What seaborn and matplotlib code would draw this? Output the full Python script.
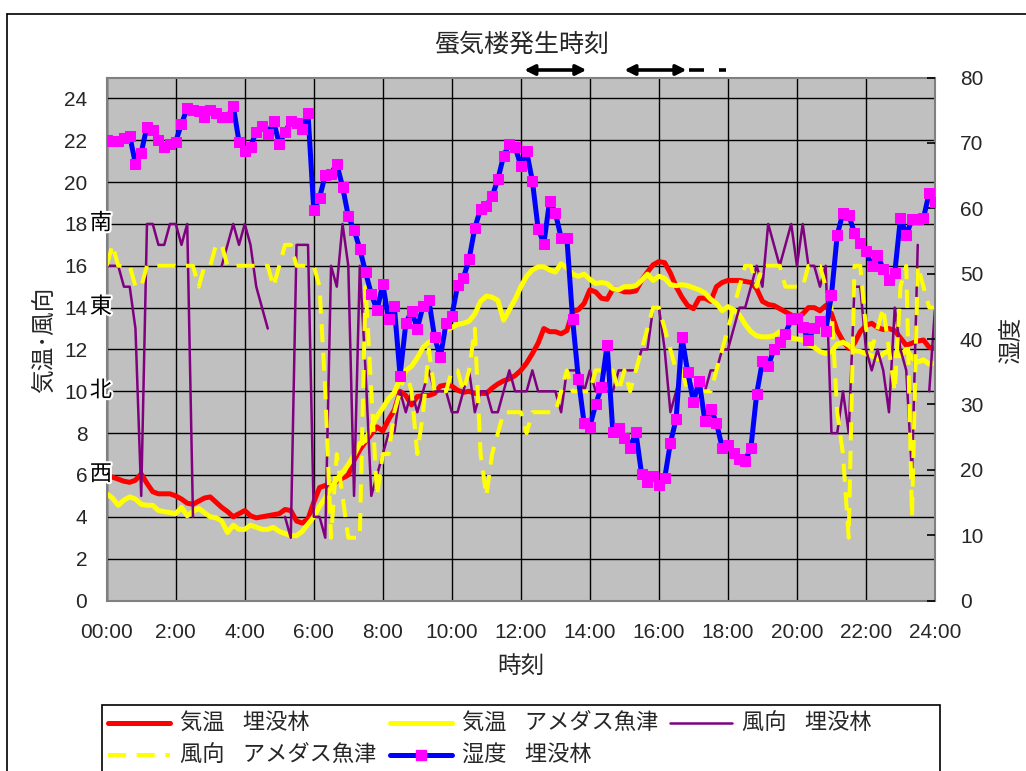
import numpy as np
import pandas as pd
import matplotlib
matplotlib.use("Agg")
import matplotlib.pyplot as plt
import matplotlib.patheffects as pe
import matplotlib.transforms as mtransforms
from matplotlib.lines import Line2D
from matplotlib.patches import Rectangle
import seaborn as sns

nan = np.nan

# 10-minute observations, 00:00 .. 24:00 (145 samples)
minutes = np.arange(0, 24 * 60 + 1, 10)

# air temperature at the buried-forest site (deg C)
temp_site = [
    5.9, 5.9, 5.8, 5.7, 5.65, 5.75, 6.05, 5.6, 5.2, 5.1,
    5.1, 5.1, 5.0, 4.85, 4.65, 4.6, 4.75, 4.9, 4.95, 4.7,
    4.45, 4.25, 4.0, 4.15, 4.3, 4.05, 3.95, 4.0, 4.05, 4.1,
    4.15, 4.35, 4.3, 3.8, 3.7, 3.9, 4.7, 5.4, 5.5, 5.5,
    5.7, 5.85, 6.0, 6.7, 7.2, 7.6, 7.95, 8.3, 8.1, 8.65,
    9.1, 10.0, 9.8, 9.35, 9.75, 9.8, 9.8, 9.9, 10.25, 10.3,
    10.25, 10.05, 9.95, 10.0, 9.9, 9.9, 9.9, 10.15, 10.35, 10.5,
    10.6, 10.75, 11.0, 11.35, 11.8, 12.3, 13.0, 12.85, 12.85, 12.75,
    12.9, 13.8, 13.9, 14.2, 14.85, 14.75, 14.45, 14.4, 14.9, 14.85,
    14.75, 14.75, 14.8, 15.3, 15.7, 16.05, 16.2, 16.15, 15.65, 15.0,
    14.5, 14.1, 13.95, 14.45, 14.45, 14.3, 15.0, 15.2, 15.3, 15.3,
    15.3, 15.25, 15.2, 14.9, 14.3, 14.15, 14.1, 13.95, 13.8, 13.65,
    13.55, 13.7, 14.0, 14.0, 13.85, 14.1, 13.7, 12.9, 12.4, 12.05,
    12.3, 12.85, 13.15, 13.25, 13.05, 12.95, 13.0, 12.9, 12.55, 12.2,
    12.3, 12.4, 12.45, 12.1, 12.05,
]

# air temperature, AMeDAS Uozu (deg C)
temp_amedas = [
    5.1, 4.9, 4.55, 4.8, 4.95, 4.85, 4.6, 4.55, 4.55, 4.3,
    4.25, 4.2, 4.15, 4.45, 4.05, 4.25, 4.4, 4.2, 4.0, 3.95,
    3.8, 3.25, 3.6, 3.4, 3.4, 3.6, 3.5, 3.4, 3.4, 3.5,
    3.3, 3.2, 3.1, 3.1, 3.3, 3.65, 4.0, 4.5, 4.9, 5.4,
    5.8, 6.1, 6.5, 6.95, 7.5, 7.65, 8.3, 8.8, 9.2, 9.65,
    9.95, 10.6, 11.0, 11.2, 11.6, 12.1, 12.35, 12.4, 12.5, 12.9,
    13.05, 13.2, 13.25, 13.35, 13.7, 14.3, 14.55, 14.5, 14.35, 13.4,
    13.9, 14.4, 15.0, 15.5, 15.8, 15.95, 15.95, 15.8, 15.7, 16.1,
    15.9, 15.6, 15.5, 15.6, 15.35, 15.15, 15.2, 15.15, 14.9, 14.85,
    15.0, 15.0, 15.05, 15.3, 15.6, 15.3, 15.5, 15.4, 15.1, 15.05,
    15.1, 15.05, 14.95, 14.85, 14.7, 14.4, 14.2, 13.85, 14.05, 13.9,
    13.65, 13.2, 12.85, 12.65, 12.6, 12.6, 12.65, 12.85, 12.6, 12.55,
    12.5, 12.45, 12.25, 12.1, 11.9, 11.8, 11.9, 12.25, 12.35, 12.2,
    11.95, 11.9, 11.8, 11.7, 11.55, 11.8, 11.95, 11.7, 11.7, 12.0,
    11.6, 11.4, 11.5, 11.3, 11.35,
]

# wind direction at the site (西=6, 北=10, 東=14, 南=18); nan = missing
wind_site = [
    16, 16, 16, 15, 15, 13, 5, 18, 18, 17,
    17, 18, 18, 17, 18, 4, nan, nan, nan, nan,
    16, 17, 18, 17, 18, 17, 15, 14, 13, nan,
    nan, 4, 3, 17, 17, 17, 4, 4, 3, 16,
    15, 18, 16, 5, 16, 11, 5, 6, 7, 8,
    8, 10, 9, 10, 9, 10, 11, 10, 10, 10,
    9, 9, 10, 11, 9, 10, 10, 9, 9, 10,
    11, 10, 10, 10, 11, 10, 10, 10, 10, 9,
    11, 11, 11, 10, 11, 10, 10, 10, 10, 11,
    11, 11, 11, 12, 12, 14, 14, 12, 9, 10,
    11, 11, 10, 10, 10, 11, 11, 12, 12, 13,
    14, 14, 15, 16, 15, 18, 17, 16, 17, 18,
    16, 18, 16, 16, 15, 16, 8, 8, 10, 8,
    15, 15, 12, 11, 12, 11, 9, 14, 12, 11,
    6, 17, nan, 10, 14,
]

# wind direction, AMeDAS Uozu
wind_amedas = [
    16, 17, 16, 16, 16, 15, 15, 16, 16, 16,
    16, 16, 16, 16, 16, 16, 15, 16, 16, 17,
    17, 16, 16, 16, 16, 16, 16, 16, 16, 15,
    16, 17, 17, 16, 16, 16, 16, 15, 10, 3,
    7, 5, 3, 3, 3, 15, 10, 5, 7, 7,
    9, 10, 11, 10, 7, 9, 12, 10, 10, 10,
    11, 11, 10, 11, 13, 7, 5, 7, 8, 9,
    9, 9, 9, 8, 9, 9, 9, 9, 9, 10,
    11, 10, 10, 10, 10, 11, 11, 11, 11, 10,
    11, 10, 11, 12, 13, 14, 14, 13, 12, 11,
    11, 10, 10, 10, 10, 10, 11, 12, 13, 14,
    15, 16, 16, 15, 16, 16, 16, 16, 15, 15,
    15, 15, 16, 16, 16, 15, 14, 9, 7, 3,
    16, 16, 13, 12, 13, 14, 12, 10, 15, 16,
    4, 16, 15, 14, 14,
]

# relative humidity at the site (%)
humidity_site = [
    70.5, 70.3, 70.3, 70.7, 71.1, 66.8, 68.5, 72.5, 72.0, 70.5,
    69.4, 69.9, 70.2, 72.9, 75.3, 75.1, 74.8, 74.0, 75.1, 74.5,
    73.9, 73.9, 75.6, 70.2, 68.7, 69.4, 71.7, 72.6, 71.3, 73.3,
    69.9, 71.6, 73.3, 73.1, 72.1, 74.5, 59.7, 61.6, 65.1, 65.3,
    66.8, 63.3, 58.8, 56.7, 53.8, 50.2, 46.9, 44.4, 48.4, 43.1,
    45.0, 34.4, 42.4, 44.3, 41.6, 45.1, 46.0, 40.3, 37.2, 42.4,
    43.5, 48.2, 49.3, 52.2, 57.0, 59.9, 60.4, 61.8, 64.4, 68.0,
    69.9, 69.4, 66.5, 68.7, 64.2, 56.9, 54.6, 61.1, 59.3, 55.5,
    55.5, 43.0, 33.9, 27.1, 26.6, 30.0, 32.6, 39.1, 25.7, 26.4,
    24.9, 23.4, 25.7, 19.3, 18.2, 19.1, 17.7, 18.7, 24.1, 27.8,
    40.3, 35.0, 30.4, 33.6, 27.4, 29.3, 27.2, 23.4, 23.8, 22.5,
    21.6, 21.4, 23.4, 31.6, 36.6, 35.9, 38.4, 39.5, 40.8, 43.0,
    43.2, 41.8, 39.9, 41.7, 42.8, 41.3, 46.7, 55.9, 59.3, 59.0,
    56.2, 54.7, 53.5, 51.2, 52.8, 50.7, 49.1, 50.1, 58.5, 55.9,
    58.3, 58.3, 58.5, 62.4, 61.0,
]

# mirage sightings (hours): confirmed spans and uncertain tail
mirage_spans = [(12.1, 13.9), (15.0, 16.8)]
mirage_uncertain = [(16.87, 17.3), (17.75, 17.93)]

x_ticks = list(range(0, 25, 2))
x_tick_labels = ["00:00"] + [f"{h}:00" for h in x_ticks[1:]]
dir_labels = {18: "南", 14: "東", 10: "北", 6: "西"}

legend_labels = ["気温   埋没林", "気温   アメダス魚津", "風向   埋没林",
                 "風向   アメダス魚津", "湿度   埋没林"]

# ---------------------------------------------------------------- frame
sns.set_style("white")
plt.rcParams["font.family"] = ["Liberation Sans", "Noto Sans CJK JP"]

W, H = 1026, 771
fig = plt.figure(figsize=(W / 100, H / 100), dpi=100)


def fx(px):
    return px / W


def fy(py):
    return 1 - py / H


x0, x1, y_top, y_bot = 106.7, 935.0, 77.5, 600.5
ax = fig.add_axes([fx(x0), fy(y_bot), fx(x1 - x0), (y_bot - y_top) / H])
ax.set_facecolor("#C0C0C0")

df = pd.DataFrame({
    "hour": minutes / 60.0,
    "temp_site": temp_site,
    "temp_amedas": temp_amedas,
    "wind_site": np.array(wind_site, dtype=float),
    "wind_amedas": np.array(wind_amedas, dtype=float),
    "humidity": humidity_site,
})
# split the site wind record at gaps so missing readings stay blank
df["seg"] = df["wind_site"].isna().cumsum()

LW = 3.6
sns.lineplot(data=df, x="hour", y="temp_site", ax=ax, color="#FF0000",
             lw=LW)
sns.lineplot(data=df, x="hour", y="temp_amedas", ax=ax, color="#FFFF00",
             lw=LW)
sns.lineplot(data=df.dropna(subset=["wind_site"]), x="hour", y="wind_site",
             units="seg", estimator=None, ax=ax, color="#800080", lw=1.8)
sns.lineplot(data=df, x="hour", y="wind_amedas", ax=ax, color="#FFFF00",
             lw=2.9, linestyle=(0, (4.5, 2.6)))

ax.set_xlim(0, 24)
ax.set_ylim(0, 25)
ax.set_xticks(x_ticks)
ax.set_xticklabels(x_tick_labels)
ax.set_yticks(range(0, 25, 2))
ax.grid(True, color="black", lw=1.0)
ax.set_axisbelow(True)
ax.set_xlabel("")
ax.set_ylabel("")
ax.tick_params(axis="x", length=0, pad=16, labelsize=15)
ax.tick_params(axis="y", length=0, pad=14, labelsize=15)
for s in ax.spines.values():
    s.set_color("#808080")
    s.set_linewidth(1.5)

ax2 = ax.twinx()
sns.lineplot(data=df, x="hour", y="humidity", ax=ax2, color="#0000FF",
             lw=LW, marker="s", markersize=7, markerfacecolor="#FF00FF",
             markeredgecolor="#FF00FF")
ax2.set_ylim(0, 80)
ax2.set_yticks(range(0, 81, 10))
ax2.set_ylabel("")
ax2.set_xlabel("")
ax2.tick_params(axis="y", direction="in", length=6, width=1.2,
                color="black", pad=18, labelsize=15)
for s in ax2.spines.values():
    s.set_visible(False)

# compass labels on the left axis
for val, txt in dir_labels.items():
    ax.text(-0.007, val, txt, transform=ax.get_yaxis_transform(),
            ha="center", va="center", fontsize=16, color="black",
            clip_on=False, zorder=10,
            path_effects=[pe.withStroke(linewidth=3, foreground="white")])

# axis titles
fig.text(fx(521), fy(667), "時刻", ha="center", va="center", fontsize=17)
fig.text(fx(45), fy(340), "気温･風向", ha="center", va="center",
         rotation=90, fontsize=17)
fig.text(fx(1012), fy(340), "湿度", ha="center", va="center",
         rotation=90, fontsize=17)

# mirage timing markers above the plot
fig.text(fx(522), fy(45), "蜃気楼発生時刻", ha="center", va="center",
         fontsize=18)
blend = mtransforms.blended_transform_factory(ax.transData, fig.transFigure)
for a, b in mirage_spans:
    ax.annotate("", xy=(b, fy(70)), xytext=(a, fy(70)), xycoords=blend,
                textcoords=blend, annotation_clip=False,
                arrowprops=dict(arrowstyle="<|-|>", lw=2.6, color="black",
                                mutation_scale=15, shrinkA=0, shrinkB=0))
for a, b in mirage_uncertain:
    fig.add_artist(Line2D([a, b], [fy(70), fy(70)], transform=blend,
                          color="black", lw=2.6, solid_capstyle="butt"))

# outer chart border (extends past the right and bottom edges)
fig.add_artist(Line2D([fx(7), 1.01], [fy(14), fy(14)], color="black", lw=1.2))
fig.add_artist(Line2D([fx(7), fx(7)], [fy(14), -0.01], color="black", lw=1.2))

# legend box
fig.add_artist(Rectangle((fx(102), -0.02), fx(940 - 102), (H - 705) / H + 0.02,
                         transform=fig.transFigure, fill=False,
                         edgecolor="black", lw=1.2))
handles = [
    dict(color="#FF0000", lw=LW, ls="-"),
    dict(color="#FFFF00", lw=LW, ls="-"),
    dict(color="#800080", lw=1.8, ls="-"),
    dict(color="#FFFF00", lw=2.9, ls=(0, (4.5, 2.6))),
    dict(color="#0000FF", lw=LW, ls="-"),
]
slots = [(108, 723), (390, 723), (670, 723), (108, 755), (390, 755)]
for (hx, hy), st, lab in zip(slots, handles, legend_labels):
    fig.add_artist(Line2D([fx(hx), fx(hx + 62)], [fy(hy), fy(hy)],
                          transform=fig.transFigure, color=st["color"],
                          lw=st["lw"], linestyle=st["ls"]))
    fig.text(fx(hx + 72), fy(hy), lab, ha="left", va="center", fontsize=16)
fig.add_artist(Line2D([fx(421)], [fy(755)], transform=fig.transFigure,
                      marker="s", markersize=7, color="#FF00FF", lw=0))

fig.savefig("out.png", dpi=100)
